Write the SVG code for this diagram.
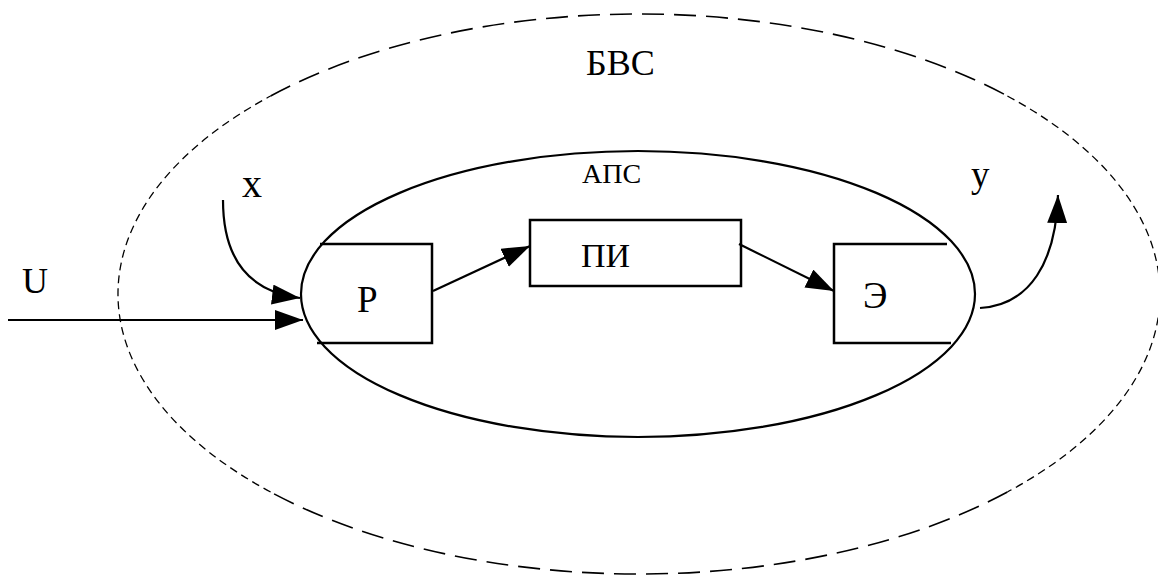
<svg xmlns="http://www.w3.org/2000/svg" width="1158" height="576" viewBox="0 0 1158 576">
<style>
.ln{fill:none;stroke:#000;stroke-width:2.2}
.bx{fill:none;stroke:#000;stroke-width:2.5}
.dl{fill:none;stroke:#000;stroke-width:1.6;stroke-dasharray:22,10}
.ds{fill:none;stroke:#000;stroke-width:1.3;stroke-dasharray:8,5}
text{font-family:'Liberation Serif','DejaVu Serif',serif;fill:#000}
</style>
<defs>
<marker id="ah" markerUnits="userSpaceOnUse" markerWidth="29" markerHeight="20" refX="28" refY="10" orient="auto">
<path d="M0,0 L28,10 L0,20 z" fill="#000"/>
</marker>
</defs>
<g id="bvs">
<path class="dl" d="M270.6,96 A521,280 0 0 1 1007.4,96"/>
<path class="ds" d="M1007.4,96 A521,280 0 0 1 1007.4,492"/>
<path class="dl" d="M1007.4,492 A521,280 0 0 1 270.6,492"/>
<path class="ds" d="M270.6,492 A521,280 0 0 1 270.6,96"/>
<text x="586" y="75" font-size="36">БВС</text>
</g>
<g id="aps">
<ellipse class="ln" cx="638" cy="294" rx="337" ry="143"/>
<text x="582" y="183" font-size="28">АПС</text>
</g>
<g id="P">
<path class="bx" d="M320,244 H432 V343 H317"/>
<text x="357" y="312" font-size="37">Р</text>
</g>
<g id="PI">
<rect class="bx" x="530" y="220" width="211" height="66"/>
<text x="581" y="267" font-size="34">ПИ</text>
</g>
<g id="E">
<path class="bx" d="M947,244 H834 V343 H951"/>
<text x="863" y="308" font-size="37">Э</text>
</g>
<g id="connectors">
<path class="ln" d="M8,320 H303" marker-end="url(#ah)"/>
<path class="ln" d="M223,200 C223,262 252,292 300,298" marker-end="url(#ah)"/>
<path class="ln" d="M433,291 L530,246" marker-end="url(#ah)"/>
<path class="ln" d="M739,244 L834,291" marker-end="url(#ah)"/>
<path class="ln" d="M980,308 C1030,305 1056,262 1058,195" marker-end="url(#ah)"/>
</g>
<g id="labels">
<text x="22" y="293" font-size="36">U</text>
<text x="242" y="197" font-size="40">x</text>
<text x="971" y="187" font-size="37">y</text>
</g>
</svg>
